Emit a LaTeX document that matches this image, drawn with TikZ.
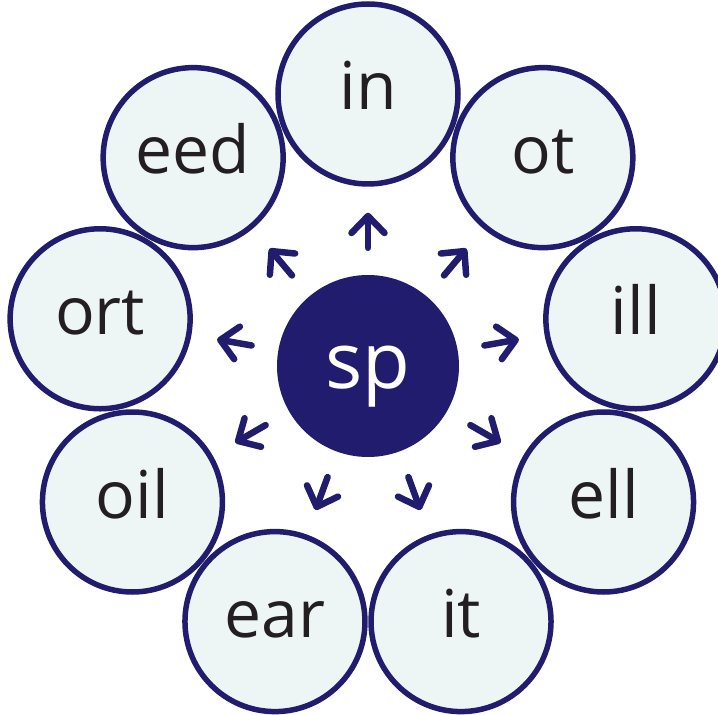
\documentclass[tikz,border=0pt]{standalone}
\usepackage{fontspec}
\setmainfont{Open Sans}
\usetikzlibrary{arrows.meta}
\definecolor{navy}{RGB}{34,28,110}
\definecolor{mist}{RGB}{238,246,245}
\definecolor{ink}{RGB}{35,31,32}
\tikzset{
  >={Straight Barb[length=17pt,width=33pt,round]},
  hub/.style   ={circle, fill=navy, minimum size=182pt, inner sep=0pt,
                 text height=56pt, text depth=12pt,
                 text=white, font=\fontsize{78}{78}\selectfont},
  rime/.style  ={circle, draw=navy, fill=mist, line width=5.5pt,
                 minimum size=180pt, inner sep=0pt,
                 text height=48pt, text depth=16pt,
                 text=ink, font=\fontsize{66}{66}\selectfont},
  spoke/.style ={->, draw=navy, line width=6.5pt, line cap=round,
                 shorten <=27pt, shorten >=26pt},
}
\begin{document}
\begin{tikzpicture}[x=1pt,y=1pt]
\useasboundingbox (-368,-349) rectangle (350,366);
\node[hub]  (sp)  at (0,0)      {sp};
\node[rime] (in)  at (90:272)   {in};
\node[rime] (ot)  at (50:272)   {ot};
\node[rime] (ill) at (10:272)   {ill};
\node[rime] (ell) at (-30:272)  {ell};
\node[rime] (it)  at (-70:272)  {it};
\node[rime] (ear) at (-110:272) {ear};
\node[rime] (oil) at (-150:272) {oil};
\node[rime] (ort) at (170:272)  {ort};
\node[rime] (eed) at (130:272)  {eed};
\draw[spoke] (sp) -- (in);
\draw[spoke] (sp) -- (ot);
\draw[spoke] (sp) -- (ill);
\draw[spoke] (sp) -- (ell);
\draw[spoke] (sp) -- (it);
\draw[spoke] (sp) -- (ear);
\draw[spoke] (sp) -- (oil);
\draw[spoke] (sp) -- (ort);
\draw[spoke] (sp) -- (eed);
\end{tikzpicture}
\end{document}
